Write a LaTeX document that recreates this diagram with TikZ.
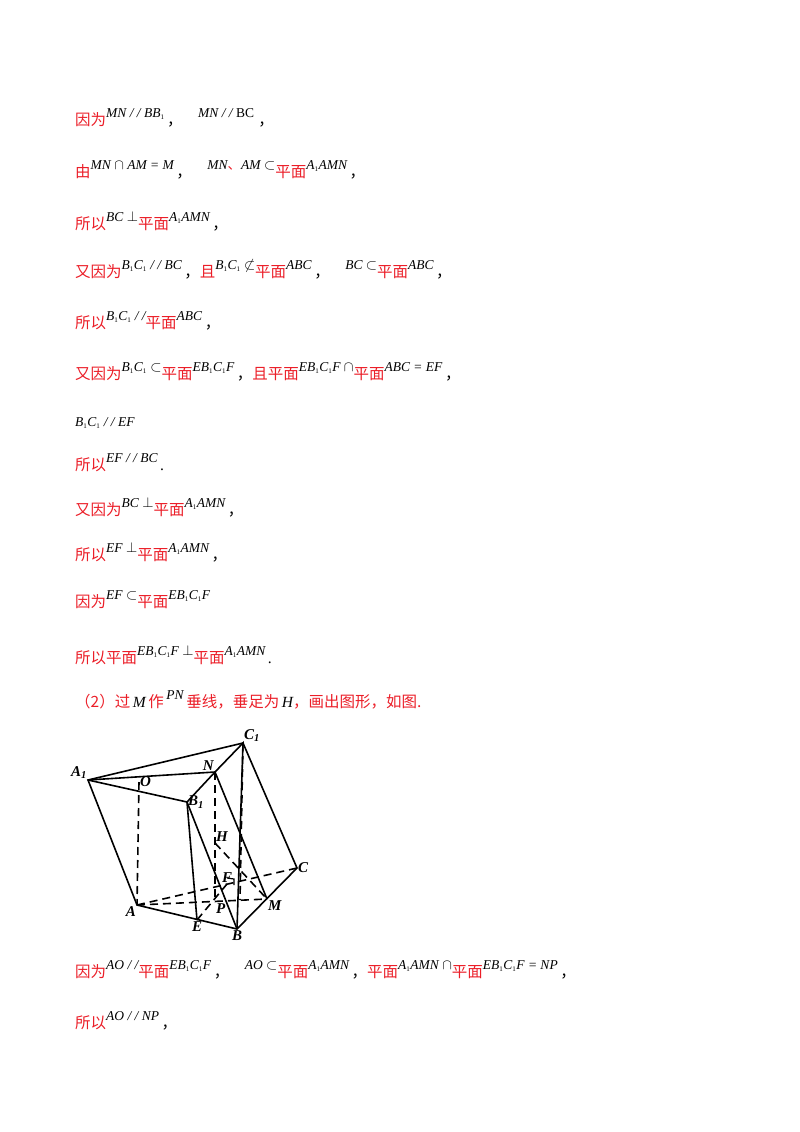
\documentclass[tikz,border=0pt]{standalone}
\usepackage{fontspec}
\usetikzlibrary{calc}
\setmainfont{Liberation Serif}
\newfontfamily\cjk{Noto Sans CJK SC}
\definecolor{myred}{RGB}{235,30,40}
\newcommand{\cn}[1]{{\cjk\color{myred}#1}}
\newcommand{\cm}{{\cjk ，}}
\newcommand{\mt}[1]{\raisebox{8pt}{\fontsize{13.5}{13.5}\selectfont\itshape #1}}
\newcommand{\one}{\textsubscript{\upshape\scriptsize 1}}
\begin{document}
\begin{tikzpicture}[x=1pt,y=-1pt,
  ln/.style={anchor=base west,inner sep=0,font=\fontsize{15.5}{15.5}\selectfont},
  lab/.style={font=\bfseries\itshape\fontsize{15}{15}\selectfont,inner sep=1pt},
  ed/.style={line width=1.6pt},
  hd/.style={line width=1.6pt,dash pattern=on 8pt off 5pt}]
\useasboundingbox (0,0) rectangle (800,1132);
\node[ln] (l1) at (75,125) {\cn{因为}\mt{MN / / BB\one}\,\cm\quad\mt{MN / / \upshape BC}\;\cm};
\node[ln] (l2) at (75,177) {\cn{由}\mt{MN $\cap$ AM = M}\,\cm\quad\mt{MN\cn{、}AM $\subset$}\cn{平面}\mt{A\one AMN}\,\cm};
\node[ln] (l3) at (75,229) {\cn{所以}\mt{BC $\perp$}\cn{平面}\mt{A\one AMN}\,\cm};
\node[ln] (l4) at (75,277) {\cn{又因为}\mt{B\one C\one\ / / BC}\,\cm\cn{且}\mt{B\one C\one\ $\not\subset$}\cn{平面}\mt{ABC}\,\cm\quad\mt{BC $\subset$}\cn{平面}\mt{ABC}\,\cm};
\node[ln] (l5) at (75,328) {\cn{所以}\mt{B\one C\one\ / /}\cn{平面}\mt{ABC}\,\cm};
\node[ln] (l6) at (75,379) {\cn{又因为}\mt{B\one C\one\ $\subset$}\cn{平面}\mt{EB\one C\one F}\,\cm\cn{且平面}\mt{EB\one C\one F $\cap$}\cn{平面}\mt{ABC = EF}\,\cm};
\node[ln] (l7) at (75,426) {\fontsize{13.5}{13.5}\selectfont\itshape B\one C\one\ / / EF};
\node[ln] (l8) at (75,470) {\cn{所以}\mt{EF / / BC}\,.};
\node[ln] (l9) at (75,515) {\cn{又因为}\mt{BC $\perp$}\cn{平面}\mt{A\one AMN}\,\cm};
\node[ln] (l10) at (75,560) {\cn{所以}\mt{EF $\perp$}\cn{平面}\mt{A\one AMN}\,\cm};
\node[ln] (l11) at (75,607) {\cn{因为}\mt{EF $\subset$}\cn{平面}\mt{EB\one C\one F}};
\node[ln] (l12) at (75,663) {\cn{所以平面}\mt{EB\one C\one F $\perp$}\cn{平面}\mt{A\one AMN}\,.};
\node[ln] (l13) at (75,707) {\cn{（2）过}\,{\itshape M}\,\cn{作}\,\mt{PN}\,\cn{垂线，垂足为}\,{\itshape H}\cn{，画出图形，如图.}};
\node[ln] (l14) at (75,977) {\cn{因为}\mt{AO / /}\cn{平面}\mt{EB\one C\one F}\,\cm\quad\mt{AO $\subset$}\cn{平面}\mt{A\one AMN}\,\cm\cn{平面}\mt{A\one AMN $\cap$}\cn{平面}\mt{EB\one C\one F = NP}\,\cm};
\node[ln] (l15) at (75,1028) {\cn{所以}\mt{AO / / NP}\,\cm};
% figure
\coordinate (A1) at (88,780); \coordinate (O) at (139,782);
\coordinate (N) at (215,772); \coordinate (C1) at (243,743);
\coordinate (B1) at (187,802); \coordinate (A) at (137,905);
\coordinate (E) at (197,920); \coordinate (B) at (237,929);
\coordinate (M) at (267,899); \coordinate (C) at (297,868);
\coordinate (P) at (215,902); \coordinate (H) at (215,843);
\coordinate (F) at (227,884); \coordinate (G) at (240,900);
\draw[ed] (A1)--(C1)--(C)--(B)--(A)--cycle;
\draw[ed] (A1)--(N)--(C1)--(B);
\draw[ed] (A1)--(B1)--(N)--(M);
\draw[ed] (B1)--(E); \draw[ed] (B1)--(B);
\draw[hd] (O)--(A); \draw[hd] (A)--(C); \draw[hd] (A)--(M);
\draw[hd] (N)--(P); \draw[hd] (E)--(F); \draw[hd] (H)--(M);
\draw[hd] (C1)--(G);
\draw[line width=1.2pt] ($(F)+(0,-6)$) -- ++(7,1) -- ++(0,6);
\node[lab,anchor=south east] (tA1) at (A1) {A\textsubscript{1}};
\node[lab,anchor=south west] (tC1) at (C1) {C\textsubscript{1}};
\node[lab,anchor=south east] (tN) at (N) {N};
\node[lab,anchor=west] (tO) at (O) {O};
\node[lab,anchor=west] (tB1) at (B1) {B\textsubscript{1}};
\node[lab,anchor=south west] (tH) at (H) {H};
\node[lab,anchor=south] (tF) at (F) {F};
\node[lab,anchor=west] (tC) at (C) {C};
\node[lab,anchor=north west] (tM) at (M) {M};
\node[lab,anchor=north east] (tA) at (A) {A};
\node[lab,anchor=north west] (tP) at (P) {P};
\node[lab,anchor=north] (tE) at (E) {E};
\node[lab,anchor=north] (tB) at (B) {B};
\end{tikzpicture}
\end{document}
